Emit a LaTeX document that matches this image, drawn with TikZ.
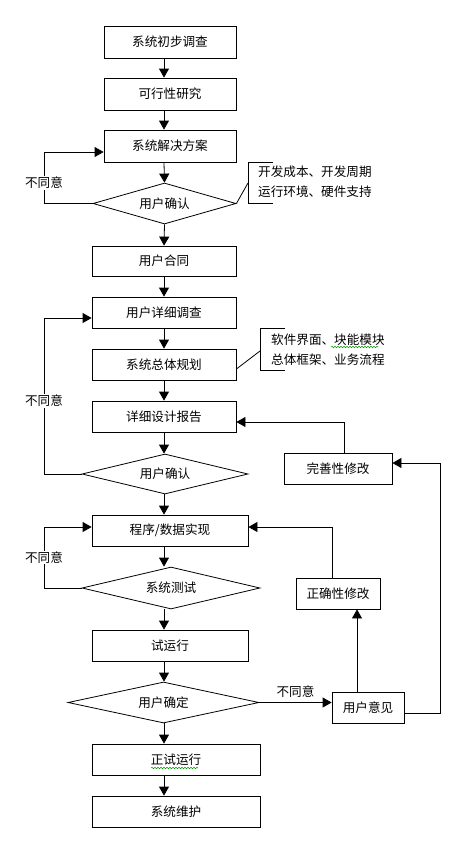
\documentclass[tikz,border=0pt]{standalone}
\usepackage{fontspec}
\setmainfont{Noto Sans CJK SC}
\usetikzlibrary{shapes.geometric,arrows.meta,decorations.pathmorphing}
\begin{document}
\begin{tikzpicture}[x=1pt,y=-1pt,font=\fontsize{12.6}{20}\selectfont]
  \tikzstyle{box}=[draw,line width=0.8pt,inner sep=0pt,minimum height=31pt]
  \tikzstyle{check}=[draw,diamond,line width=0.8pt,inner sep=0pt,aspect=3.5]
  \tikzstyle{arr}=[line width=0.8pt,-{Triangle[width=10pt,length=9pt]}]
  \tikzstyle{line}=[line width=0.8pt]
  \tikzstyle{no}=[fill=white,inner sep=1pt]
  \tikzstyle{note}=[anchor=west,align=left,inner sep=0pt]
  \tikzstyle{wavy}=[green!60!black,line width=0.5pt,decorate,decoration={snake,amplitude=0.8pt,segment length=3pt}]
  \useasboundingbox (0,0) rectangle (471,854);
  \coordinate (spine) at (164,0);
  \node[box,minimum width=132pt,minimum height=32pt] (survey) at (170,42) {系统初步调查};
  \node[box,minimum width=132pt,minimum height=32pt] (feasible) at (170,94) {可行性研究};
  \node[box,minimum width=132pt,minimum height=32pt] (plan) at (170,146) {系统解决方案};
  \node[check,minimum width=143pt,minimum height=41pt] (confirmA) at (164.5,203.5) {用户确认};
  \node[box,minimum width=144pt,minimum height=30pt] (contract) at (164,261) {用户合同};
  \node[box,minimum width=144pt] (detail) at (164,312.5) {用户详细调查};
  \node[box,minimum width=144pt] (overall) at (164,364.5) {系统总体规划};
  \node[box,minimum width=144pt] (report) at (164,416.5) {详细设计报告};
  \node[check,minimum width=166pt,minimum height=40pt] (confirmB) at (165,474) {用户确认};
  \node[box,minimum width=156pt] (impl) at (170,530.5) {程序/数据实现};
  \node[check,minimum width=178pt,minimum height=42pt] (test) at (171,588) {系统测试};
  \node[box,minimum width=156pt] (trial) at (170,645.5) {试运行};
  \node[check,minimum width=191pt,minimum height=41pt] (decide) at (163.5,702.5) {用户确定};
  \node[box,minimum width=168pt] (formal) at (176,759.5) {正试运行};
  \node[box,minimum width=168pt] (maintain) at (176,811.5) {系统维护};
  \node[box,minimum width=108pt] (perfect) at (338,468.5) {完善性修改};
  \node[box,minimum width=84pt] (correct) at (338,593.5) {正确性修改};
  \node[box,minimum width=72pt] (opinion) at (368,707.5) {用户意见};
  \node[note] (costs) at (258,182) {开发成本、开发周期\\运行环境、硬件支持};
  \node[note] (modules) at (271,349.5) {软件界面、块能模块\\总体框架、业务流程};
  \draw[arr] (survey.south -| spine) -- (feasible.north -| spine);
  \draw[arr] (feasible.south -| spine) -- (plan.north -| spine);
  \draw[arr] (plan.south -| spine) -- (confirmA.north);
  \draw[arr] (confirmA.south) -- (contract.north -| spine);
  \draw[arr] (contract.south -| spine) -- (detail.north -| spine);
  \draw[arr] (detail.south -| spine) -- (overall.north -| spine);
  \draw[arr] (overall.south -| spine) -- (report.north -| spine);
  \draw[arr] (report.south -| spine) -- (confirmB.north -| spine);
  \draw[arr] (confirmB.south -| spine) -- (impl.north -| spine);
  \draw[arr] (impl.south -| spine) -- (test.north -| spine);
  \draw[arr] (test.south -| spine) -- (trial.north -| spine);
  \draw[arr] (trial.south -| spine) -- (decide.north -| spine);
  \draw[arr] (decide.south -| spine) -- (formal.north -| spine);
  \draw[arr] (formal.south -| spine) -- (maintain.north -| spine);
  \draw[arr] (confirmA.west) -- (44,203.5) -- node[no,pos=0.4] {不同意} (44,152) -- ([yshift=-6pt]plan.west);
  \draw[arr] (confirmB.west) -- (44,474) -- node[no,pos=0.47] {不同意} (44,318) -- ([yshift=-5.5pt]detail.west);
  \draw[arr] (test.west) -- (44,588) -- node[no,pos=0.5] {不同意} (44,527) -- ([yshift=3.5pt]impl.west);
  \draw[arr] (decide.east) -- node[above=1pt] {不同意} (decide.east -| opinion.west);
  \draw[arr] ([xshift=-11pt]opinion.north) -- ([xshift=-11pt]opinion.north |- correct.south);
  \draw[arr] ([xshift=-6pt]correct.north) |- ([yshift=3.5pt]impl.east);
  \draw[arr] ([yshift=-5.5pt]opinion.east) -- (440,713) |- ([yshift=5.5pt]perfect.east);
  \draw[arr] ([xshift=6pt]perfect.north) |- ([yshift=-5.5pt]report.east);
  \draw[line] (273,162) -| (248,203) -- (273,203);
  \draw[line] (confirmA.east) -- (248,183);
  \draw[line] (285,328) -| (260,370) -- (285,370);
  \draw[line] ([yshift=-4.5pt]overall.east) -- (260,351);
  \draw[wavy] (331,347) -- (378,347);
  \draw[wavy] (151,768) -- (198,768);
\end{tikzpicture}
\end{document}
